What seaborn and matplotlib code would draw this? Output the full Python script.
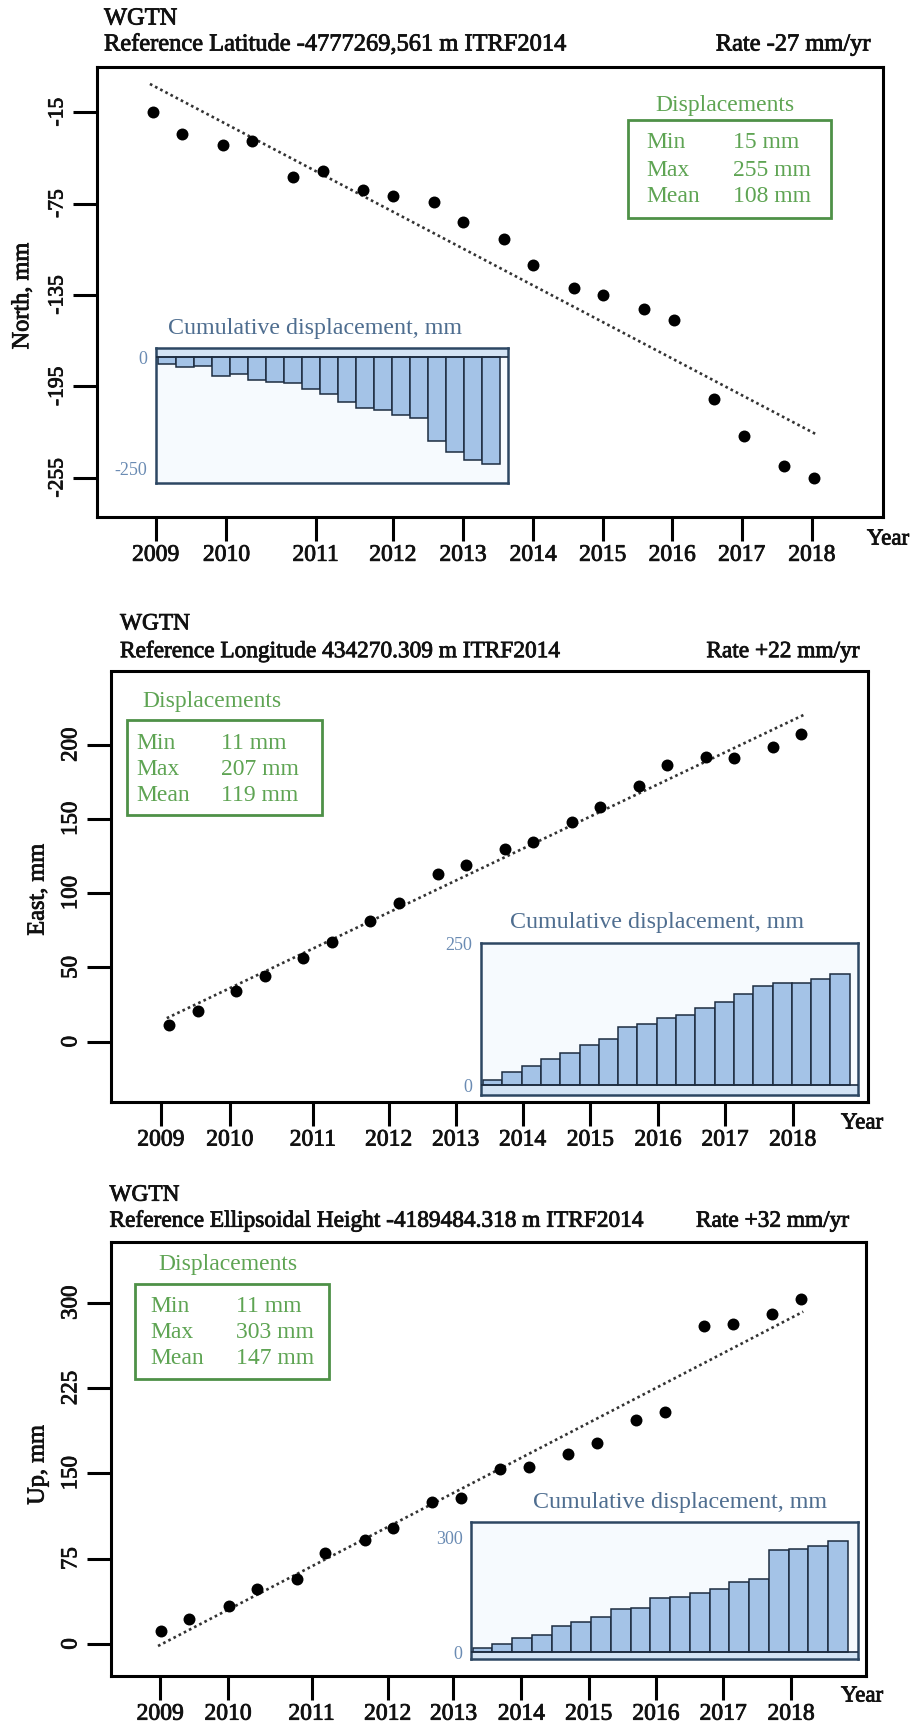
import numpy as np
import pandas as pd
import matplotlib
matplotlib.use("Agg")
import matplotlib.pyplot as plt
import matplotlib.patheffects as pe
from matplotlib.patches import Rectangle
from matplotlib.text import Text
from matplotlib.colors import to_hex
import seaborn as sns

sns.set_theme(style="ticks")
plt.rcParams["font.family"] = ["Liberation Serif", "DejaVu Serif"]

W, H = 915, 1728

# ---------------------------------------------------------------- data
station = "WGTN"

# observation epochs (decimal years), common to all three components
epochs = [2008.58, 2009.00, 2009.58, 2010.00, 2010.58, 2011.00, 2011.58, 2012.00,
          2012.58, 2013.00, 2013.58, 2014.00, 2014.58, 2015.00, 2015.58, 2016.00,
          2016.58, 2017.00, 2017.58, 2018.00]

north_mm = [-15.0, -29.6, -36.4, -33.7, -57.7, -53.5, -66.1, -70.2, -73.6, -87.3,
            -98.5, -115.6, -130.2, -134.8, -143.9, -151.2, -203.2, -227.6, -247.1, -255.0]
east_mm = [11.0, 21.0, 34.4, 44.2, 56.7, 67.2, 81.3, 93.1, 113.1, 119.2,
           129.7, 134.7, 148.0, 157.8, 172.1, 186.2, 192.1, 191.3, 198.8, 207.0]
up_mm = [11.0, 21.7, 33.0, 48.3, 56.8, 79.8, 91.1, 102.4, 124.4, 128.3,
         154.1, 155.3, 166.9, 176.7, 196.6, 203.6, 280.0, 281.5, 289.8, 303.0]

year_labels = ["2009", "2010", "2011", "2012", "2013", "2014", "2015", "2016", "2017", "2018"]
north_year_ticks = [2008.62, 2009.63, 2010.90, 2012.00, 2013.00, 2014.00, 2014.99, 2015.98, 2016.97, 2017.97]
east_year_ticks = [2008.45, 2009.48, 2010.72, 2011.85, 2012.85, 2013.85, 2014.86, 2015.87, 2016.87, 2017.88]
up_year_ticks = [2008.57, 2009.57, 2010.80, 2011.92, 2012.89, 2013.89, 2014.88, 2015.87, 2016.86, 2017.86]

north_yticks = [-15, -75, -135, -195, -255]
east_yticks = [0, 50, 100, 150, 200]
up_yticks = [0, 75, 150, 225, 300]

north_header = "Reference Latitude -4777269,561 m ITRF2014"
east_header = "Reference Longitude 434270.309 m ITRF2014"
up_header = "Reference Ellipsoidal Height -4189484.318 m ITRF2014"

north_rate = "Rate -27 mm/yr"
east_rate = "Rate +22 mm/yr"
up_rate = "Rate +32 mm/yr"

stat_names = ["Min", "Max", "Mean"]
north_stats = ["15 mm", "255 mm", "108 mm"]
east_stats = ["11 mm", "207 mm", "119 mm"]
up_stats = ["11 mm", "303 mm", "147 mm"]

north_cum_ticks = [0, -250]
east_cum_ticks = [0, 250]
up_cum_ticks = [0, 300]

# ---------------------------------------------------------------- style
INK = "#111111"
GREEN_TXT = "#5ea453"
GREEN_EDGE = "#4e9147"
INSET_TXT = "#4f6e90"
INSET_TICK = "#6a8bb3"
BAR_FACE = "#a4c3e7"
BAR_EDGE = "#1d2c40"
FRAME_BLUE = "#2d4763"
BAND_BLUE = "#d4e4f5"


def fx(x):
    return x / W


def fy(y):
    return 1 - y / H


def rect_px(l, t, r, b):
    return [fx(l), fy(b), (r - l) / W, (b - t) / H]


panels = [
    dict(vals=north_mm, ylabel="North, mm", header=north_header, rate=north_rate,
         stats=north_stats, yticks=north_yticks, xticks=north_year_ticks,
         cum_ticks=north_cum_ticks, head_size=17.6,
         box=(96.6, 67.3, 882.7, 517.0), xlim=(2007.78, 2018.98), ylim=(-280.7, 14.5),
         ytick_size=15.5, ylabel_xy=(-0.094, 0.491),
         head=((104, 19), (104, 45), (870.5, 45)), year=(888, 539),
         stat_box=(627.9, 120.0, 831.3, 218.3), stat_title=(725.2, 106),
         stat_rows=(142.5, 170.3, 196.4), stat_cols=(646.3, 733.2),
         inset=(155.7, 348.3, 508.2, 483.1), inset_xlim=(-0.63, 18.93),
         inset_ylim=(-283, 20), inset_title=(0.451, 1.148)),
    dict(vals=east_mm, ylabel="East, mm", header=east_header, rate=east_rate,
         stats=east_stats, yticks=east_yticks, xticks=east_year_ticks,
         cum_ticks=east_cum_ticks, head_size=16.8,
         box=(110.5, 671.5, 867.7, 1101.8), xlim=(2007.70, 2019.00), ylim=(-40.5, 249.4),
         ytick_size=16.5, ylabel_xy=(-0.0957, 0.493),
         head=((120, 623.9), (120, 651.7), (860, 651.7)), year=(862, 1123),
         stat_box=(126.9, 720.2, 321.5, 815.0), stat_title=(212, 701.4),
         stat_rows=(743.8, 769.9, 795.2), stat_cols=(136.3, 220.7),
         inset=(480.5, 942.6, 858.4, 1094.9), inset_xlim=(-0.63, 18.95),
         inset_ylim=(-17, 252), inset_title=(0.4665, 1.131)),
    dict(vals=up_mm, ylabel="Up, mm", header=up_header, rate=up_rate,
         stats=up_stats, yticks=up_yticks, xticks=up_year_ticks,
         cum_ticks=up_cum_ticks, head_size=16.8,
         box=(110.5, 1242.1, 866.4, 1675.9), xlim=(2007.84, 2018.97), ylim=(-28.1, 353.4),
         ytick_size=16.5, ylabel_xy=(-0.0959, 0.486),
         head=((109.5, 1195.2), (109.5, 1221.2), (849.7, 1221.2)), year=(862, 1696),
         stat_box=(134.5, 1283.8, 328.5, 1378.7), stat_title=(227.7, 1264.7),
         stat_rows=(1306.4, 1332.5, 1358.5), stat_cols=(150.2, 236.4),
         inset=(470.8, 1521.9, 858.4, 1659.2), inset_xlim=(-0.59, 19.03),
         inset_ylim=(-18, 342), inset_title=(0.540, 1.14)),
]

fig = plt.figure(figsize=(W / 100, H / 100), dpi=100)
fig.patch.set_facecolor("white")

for p in panels:
    t = np.asarray(epochs)
    v = np.asarray(p["vals"])
    df = pd.DataFrame({"epoch": t, "disp": v})

    ax = fig.add_axes(rect_px(*p["box"]))
    ax.set_facecolor("white")

    # linear trend through the observations
    slope, icpt = np.polyfit(t, v, 1)
    tt = np.array([t[0] - 0.04, t[-1] + 0.04])
    trend = pd.DataFrame({"epoch": tt, "disp": slope * tt + icpt})
    sns.lineplot(data=trend, x="epoch", y="disp", ax=ax, color="#333333",
                 linewidth=1.9, linestyle=(0, (1.0, 1.2)), zorder=2)

    sns.scatterplot(data=df, x="epoch", y="disp", ax=ax, color="black", s=74,
                    linewidth=0, zorder=3)

    ax.set_xlim(*p["xlim"])
    ax.set_ylim(*p["ylim"])
    ax.set_xticks(p["xticks"])
    ax.set_xticklabels(year_labels)
    ax.set_yticks(p["yticks"])
    ax.set_yticklabels([str(k) for k in p["yticks"]])
    ax.set_xlabel("")
    ax.set_ylabel(p["ylabel"], fontsize=17.5, va="center", color=INK)
    ax.yaxis.set_label_coords(*p["ylabel_xy"])

    for s in ax.spines.values():
        s.set_visible(True)
        s.set_color("black")
        s.set_linewidth(2.2)
    ax.tick_params(axis="both", direction="out", length=17, width=2.2,
                   color="black", labelcolor=INK,
                   top=False, right=False, bottom=True, left=True)
    ax.tick_params(axis="x", labelsize=17, pad=3)
    ax.tick_params(axis="y", labelsize=p["ytick_size"], pad=4, labelrotation=90)
    plt.setp(ax.get_yticklabels(), va="center")

    # header lines
    (wx, wy), (rx, ry), (qx, qy) = p["head"]
    hs = p["head_size"]
    fig.text(fx(wx), fy(wy), station, ha="left", va="center", fontsize=hs, color=INK)
    fig.text(fx(rx), fy(ry), p["header"], ha="left", va="center", fontsize=hs, color=INK)
    fig.text(fx(qx), fy(qy), p["rate"], ha="right", va="center", fontsize=hs, color=INK)
    fig.text(fx(p["year"][0]), fy(p["year"][1]), "Year", ha="center", va="center",
             fontsize=16.5, color=INK)

    # displacement summary box
    l, tp, r, b = p["stat_box"]
    fig.add_artist(Rectangle((fx(l), fy(b)), (r - l) / W, (b - tp) / H,
                             transform=fig.transFigure, facecolor="white",
                             edgecolor=GREEN_EDGE, linewidth=2.0, zorder=5))
    fig.text(fx(p["stat_title"][0]), fy(p["stat_title"][1]), "Displacements",
             ha="center", va="center", fontsize=17, color=GREEN_TXT, zorder=6)
    for name, val, ry_ in zip(stat_names, p["stats"], p["stat_rows"]):
        fig.text(fx(p["stat_cols"][0]), fy(ry_), name, ha="left", va="center",
                 fontsize=17, color=GREEN_TXT, zorder=6)
        fig.text(fx(p["stat_cols"][1]), fy(ry_), val, ha="left", va="center",
                 fontsize=17, color=GREEN_TXT, zorder=6)

    # cumulative displacement since the first epoch
    cum = v[1:] - v[0]
    cdf = pd.DataFrame({"step": np.arange(len(cum)), "cum": cum})
    axi = fig.add_axes(rect_px(*p["inset"]))
    axi.set_facecolor("#f6fafe")
    lo, hi = p["inset_ylim"]
    if cum[-1] < 0:
        axi.axhspan(0, hi, color=BAND_BLUE, zorder=0, lw=0)
    else:
        axi.axhspan(lo, 0, color=BAND_BLUE, zorder=0, lw=0)
    sns.barplot(data=cdf, x="step", y="cum", ax=axi, color=BAR_FACE, saturation=1,
                width=1.0, edgecolor=BAR_EDGE, linewidth=1.1, errorbar=None, zorder=2)
    axi.axhline(0, color=BAR_EDGE, lw=1.2, zorder=3)
    axi.set_xlim(*p["inset_xlim"])
    axi.set_ylim(lo, hi)
    axi.set_xticks([])
    axi.set_yticks(p["cum_ticks"])
    axi.set_yticklabels([str(k) for k in p["cum_ticks"]])
    axi.tick_params(axis="y", length=0, pad=6, labelsize=13, labelcolor=INSET_TICK,
                    left=True)
    axi.set_xlabel("")
    axi.set_ylabel("")
    for s in axi.spines.values():
        s.set_visible(True)
        s.set_color(FRAME_BLUE)
        s.set_linewidth(1.8)
    axi.text(p["inset_title"][0], p["inset_title"][1], "Cumulative displacement, mm",
             transform=axi.transAxes, ha="center", va="center", fontsize=17.3,
             color=INSET_TXT)

# slightly heavier strokes for the dark lettering
for txt in fig.findobj(Text):
    if txt.get_text() and to_hex(txt.get_color()) == INK:
        txt.set_path_effects([pe.withStroke(linewidth=0.6, foreground=INK)])

fig.savefig("out.png", dpi=100, facecolor="white")
